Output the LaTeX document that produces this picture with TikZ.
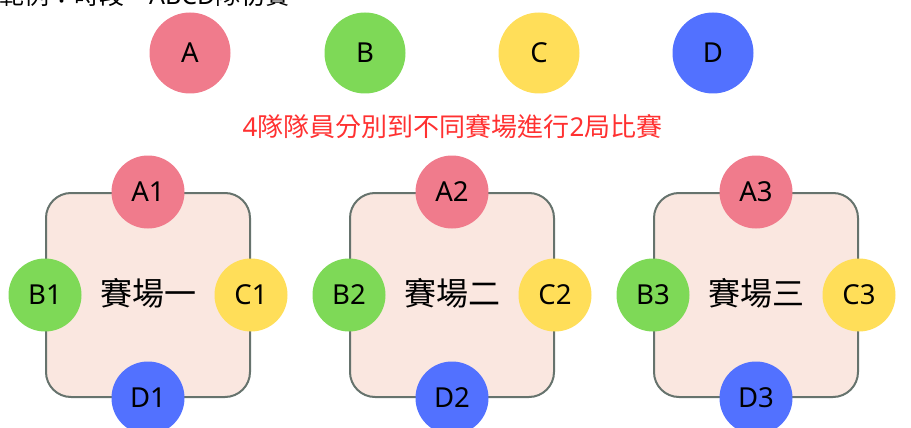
\documentclass[tikz,border=0pt]{standalone}
\usepackage{fontspec}
\setmainfont{Noto Sans CJK TC}
\newfontfamily\latin{Noto Sans}
\definecolor{cA}{HTML}{F07B8C}
\definecolor{cB}{HTML}{7ED957}
\definecolor{cC}{HTML}{FFDE59}
\definecolor{cD}{HTML}{5271FF}
\definecolor{redtxt}{HTML}{FF3131}
\definecolor{boxfill}{HTML}{FAE7E0}
\definecolor{boxline}{HTML}{66736D}
\begin{document}
\begin{tikzpicture}[x=1pt,y=-1pt,
  bigdot/.style={circle,minimum size=81pt,inner sep=0pt,font=\latin\fontsize{27.5}{27.5}\selectfont},
  smalldot/.style={circle,minimum size=73pt,inner sep=0pt,font=\latin\fontsize{27.5}{27.5}\selectfont},
  field/.style={draw=boxline,line width=2pt,fill=boxfill,rounded corners=25pt,minimum size=204pt,inner sep=0pt}]
\useasboundingbox (0,0) rectangle (911,428);
\clip (0,0) rectangle (911,428);
\node[anchor=base west,inner sep=0pt,font=\fontsize{25}{25}\selectfont] (title) at (-1,5) {範例：時段一{\latin ABCD}隊初賽};
\node[bigdot,fill=cA] (A) at (190,53) {A};
\node[bigdot,fill=cB] (B) at (365,53) {B};
\node[bigdot,fill=cC] (C) at (539,53) {C};
\node[bigdot,fill=cD] (D) at (713,53) {D};
\node[text=redtxt,inner sep=0pt,font=\fontsize{26}{26}\selectfont] (note) at (452.5,127) {{\latin 4}隊隊員分別到不同賽場進行{\latin 2}局比賽};
\foreach \i/\x/\n in {1/148/一,2/452/二,3/756/三}{
  \node[field] (F\i) at (\x,295) {};
  \node[inner sep=0pt,font=\fontsize{32}{32}\selectfont] (L\i) at ([yshift=2pt]F\i.center) {賽場\n};
  \node[smalldot,fill=cA] (A\i) at (F\i.north) {A\i};
  \node[smalldot,fill=cB] (B\i) at (F\i.west) {B\i};
  \node[smalldot,fill=cC] (C\i) at (F\i.east) {C\i};
  \node[smalldot,fill=cD] (D\i) at (F\i.south) {D\i};
}
\end{tikzpicture}
\end{document}
